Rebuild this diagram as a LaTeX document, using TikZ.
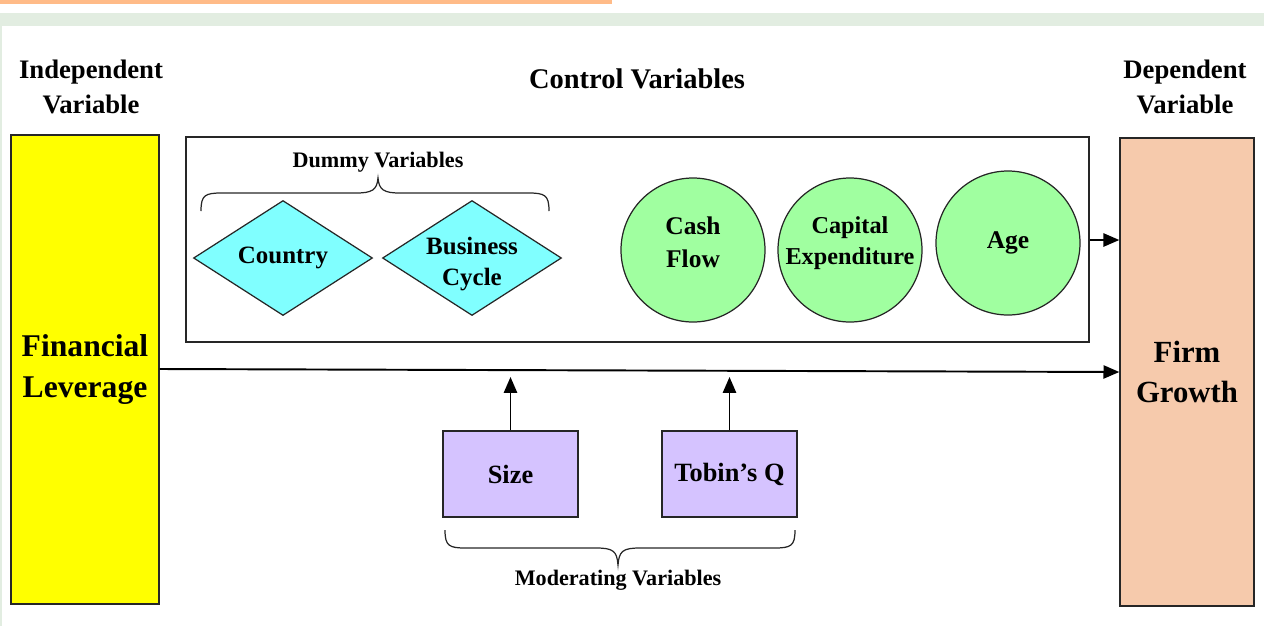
\documentclass[tikz,border=0pt]{standalone}
\usepackage{fontspec}
\setmainfont{Liberation Serif}
\usetikzlibrary{shapes.geometric,arrows.meta}
\definecolor{lev}{HTML}{FFFF00}
\definecolor{grow}{HTML}{F6CAAC}
\definecolor{dia}{HTML}{80FFFF}
\definecolor{circ}{HTML}{A0FFA0}
\definecolor{mod}{HTML}{D5C3FF}
\definecolor{topbar}{HTML}{FFBB88}
\definecolor{band}{HTML}{E2EDE1}
\tikzset{
  box/.style={draw=black!85, line width=0.8pt},
  dnode/.style={diamond, draw=black!85, line width=0.7pt, fill=dia, minimum width=179*0.02cm, minimum height=115*0.02cm, inner sep=0pt, aspect=1.55},
  dtxt/.style={align=center, inner sep=0pt, font=\fontsize{14.2}{18}\selectfont\bfseries},
  cnode/.style={circle, draw=black!85, line width=0.7pt, fill=circ, minimum size=144*0.02cm, inner sep=0pt},
  ctxt/.style={align=center, inner sep=0pt, font=\fontsize{14.5}{19}\selectfont\bfseries},
  mnode/.style={rectangle, draw=black!85, line width=0.8pt, fill=mod, minimum width=135*0.02cm, minimum height=86*0.02cm, inner sep=0pt, font=\fontsize{15}{16}\selectfont\bfseries},
  hdr/.style={align=center, font=\fontsize{15.2}{20}\selectfont\bfseries},
  arr/.style={-{Triangle[length=9pt,width=7.5pt]}, line width=1.1pt},
  brc/.style={line width=0.7pt, black!85}
}
\begin{document}
\begin{tikzpicture}[x=0.02cm,y=-0.02cm]
\useasboundingbox (0,0) rectangle (1264,626);
% decoration
\fill[topbar] (0,0) rectangle (612,4);
\fill[band] (0,13) rectangle (1264,25.5);
\fill[band] (0,25.5) rectangle (2.5,626);
% headers
\node[hdr] (hin) at (91,87) {Independent\\Variable};
\node[hdr, font=\fontsize{16.2}{18}\selectfont\bfseries] (hcv) at (637,79) {Control Variables};
\node[hdr] (hdep) at (1185,87) {Dependent\\Variable};
% main boxes
\node[box, fill=lev, minimum width=148*0.02cm, minimum height=469*0.02cm, inner sep=0pt, align=center, font=\fontsize{18}{23}\selectfont\bfseries] (fl) at (85,369.5) {Financial\\Leverage};
\node[box, fill=grow, minimum width=134*0.02cm, minimum height=468*0.02cm, inner sep=0pt, align=center, font=\fontsize{17.5}{23}\selectfont\bfseries] (fg) at (1187,372) {Firm\\Growth};
\node[box, minimum width=903*0.02cm, minimum height=205*0.02cm, inner sep=0pt] (cv) at (637.5,239.5) {};
% dummy variables
\node[font=\fontsize{12.6}{14}\selectfont\bfseries] (dv) at (378,162) {Dummy Variables};
\draw[brc] (201,211) .. controls (201,195) and (205,193) .. (222,193) -- (356,193) .. controls (372,193) and (377,190) .. (378,178) .. controls (379,190) and (384,193) .. (400,193) -- (528,193) .. controls (545,193) and (549,195) .. (549,211);
\node[dnode] (cty) at (283,258) {};
\node[dtxt] (ctyt) at (283,258) {Country};
\node[dnode] (bc) at (472,258) {};
\node[dtxt] (bct) at (472,264) {Business\\Cycle};
% circles
\node[cnode] (cf) at (693,250) {};
\node[ctxt] (cft) at (693,242) {Cash\\Flow};
\node[cnode] (ce) at (850,250) {};
\node[ctxt, font=\fontsize{13.8}{18}\selectfont\bfseries] (cet) at (850,243) {Capital\\Expenditure};
\node[cnode] (age) at (1008,243) {};
\node[ctxt] (aget) at (1008,243) {Age};
% moderating
\node[mnode] (sz) at (510.5,474) {Size};
\node[mnode] (tq) at (729.5,474) {Tobin’s Q};
\draw[brc] (445,530) .. controls (445,546) and (449,548) .. (466,548) -- (596,548) .. controls (613,548) and (617,551) .. (618,565) .. controls (619,551) and (623,548) .. (640,548) -- (774,548) .. controls (791,548) and (795,546) .. (795,530);
\node[font=\fontsize{12.6}{14}\selectfont\bfseries] (mv) at (618,580) {Moderating Variables};
% arrows
\coordinate (m1) at (510.5,377);
\coordinate (m2) at (729.5,377);
\draw[arr] (sz.north) -- (m1);
\draw[arr] (tq.north) -- (m2);
\draw[arr] (fl.east |- 0,369) -- (fg.west |- 0,372);
\draw[arr] (cv.east |- 0,240) -- (fg.west |- 0,240);
\end{tikzpicture}
\end{document}
